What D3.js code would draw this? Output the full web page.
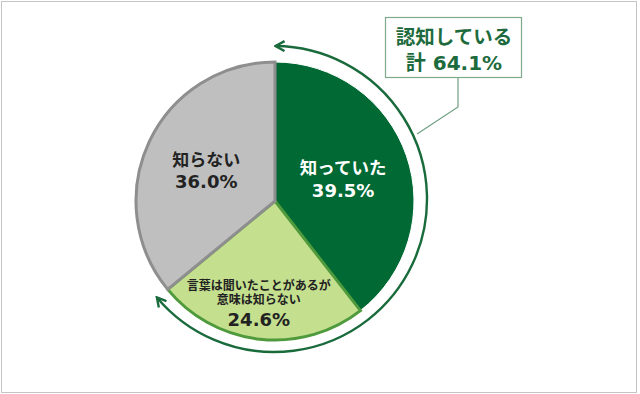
<!DOCTYPE html>
<html>
<head>
<meta charset="utf-8">
<script src="https://cdn.jsdelivr.net/npm/d3@7"></script>
<style>
  body { margin: 0; background: #fff; }
  text { font-family: "DejaVu Sans", "Noto Sans CJK JP", sans-serif; font-weight: bold; }
</style>
</head>
<body>
<div id="chart"></div>
<script>

const categories = ["知っていた", "言葉は聞いたことがあるが|意味は知らない", "知らない"];
const values = [39.5, 24.6, 36.0];
const percentLabels = ["39.5%", "24.6%", "36.0%"];
const totalLabel = ["認知している", "計 64.1%"];

const width = 640, height = 394;
const cx = 275, cy = 201, radius = 139;

const fills = ["#006934", "#c4df8e", "#bfbfbf"];
const strokes = ["#ffffff", "#4f9a3c", "#8e8e8e"];
const textColors = ["#ffffff", "#222222", "#222222"];

const svg = d3.select("#chart").append("svg")
    .attr("width", width)
    .attr("height", height);

// frame round the picture
svg.append("rect")
    .attr("x", 1.5).attr("y", 1.5)
    .attr("width", 635).attr("height", 391)
    .attr("fill", "none").attr("stroke", "#c4c4c4");

const pie = d3.pie().sort(null).value(d => d);
const arcs = pie(values);

const arc = d3.arc().innerRadius(0).outerRadius(radius);

const g = svg.append("g").attr("transform", "translate(" + cx + "," + cy + ")");

g.selectAll("path.slice")
    .data(arcs)
    .enter().append("path")
    .attr("class", "slice")
    .attr("d", arc)
    .attr("fill", (d, i) => fills[i])
    .attr("stroke", (d, i) => strokes[i])
    .attr("stroke-width", (d, i) => i === 0 ? 1 : 3)
    .attr("stroke-linejoin", "miter");

// labels
const labelRadius = [72, 102, 76];
const lineSetup = [
    [{size: 17.5, dy: -4}, {size: 18, dy: 19}],
    [{size: 12, dy: -12}, {size: 12, dy: 2}, {size: 18, dy: 24}],
    [{size: 17, dy: -3}, {size: 18, dy: 19}]
];

arcs.forEach(function (d, i) {
    const a = (d.startAngle + d.endAngle) / 2;
    const x = Math.sin(a) * labelRadius[i];
    const y = -Math.cos(a) * labelRadius[i];
    const lines = categories[i].split("|").concat([percentLabels[i]]);
    const t = g.append("text")
        .attr("text-anchor", "middle")
        .attr("fill", textColors[i]);
    lines.forEach(function (line, j) {
        t.append("tspan")
            .attr("x", x - (i === 1 ? 5 : 0))
            .attr("y", y + lineSetup[i][j].dy)
            .attr("font-size", lineSetup[i][j].size)
            .text(line);
    });
});

// arrow around the "aware" part
const defs = svg.append("defs");
defs.append("marker")
    .attr("id", "chev")
    .attr("viewBox", "0 0 12 12")
    .attr("refX", 10).attr("refY", 6)
    .attr("markerWidth", 12).attr("markerHeight", 12)
    .attr("markerUnits", "userSpaceOnUse")
    .attr("orient", "auto-start-reverse")
    .append("path")
    .attr("d", "M1,1 L10,6 L1,11")
    .attr("fill", "none")
    .attr("stroke", "#1a6b3c")
    .attr("stroke-width", 2.4);

const arrowR = 153, acx = 274, acy = 199;
const awareEnd = arcs[1].endAngle;
const p = d3.path();
p.arc(acx, acy, arrowR, -Math.PI / 2 + 0.01, awareEnd - Math.PI / 2 - 0.01);
svg.append("path")
    .attr("d", p.toString())
    .attr("fill", "none")
    .attr("stroke", "#1a6b3c")
    .attr("stroke-width", 2.4)
    .attr("marker-start", "url(#chev)")
    .attr("marker-end", "url(#chev)");

// callout box
const boxX = 385, boxY = 17, boxW = 136, boxH = 60;
svg.append("polyline")
    .attr("points", [[boxX + 73, boxY + boxH], [boxX + 73, 107], [417, 134]].join(" "))
    .attr("fill", "none")
    .attr("stroke", "#6f9e82")
    .attr("stroke-width", 1.2);

svg.append("rect")
    .attr("x", boxX + 0.5).attr("y", boxY + 0.5)
    .attr("width", boxW).attr("height", boxH)
    .attr("fill", "#fff")
    .attr("stroke", "#7fa98d")
    .attr("stroke-width", 1.2);

const bt = svg.append("text")
    .attr("text-anchor", "middle")
    .attr("fill", "#1d6b3d");
bt.append("tspan").attr("x", boxX + boxW / 2 + 1).attr("y", 44).attr("font-size", 19.5).text(totalLabel[0]);
bt.append("tspan").attr("x", boxX + boxW / 2 + 1).attr("y", 70).attr("font-size", 20).text(totalLabel[1]);

</script>
</body>
</html>
